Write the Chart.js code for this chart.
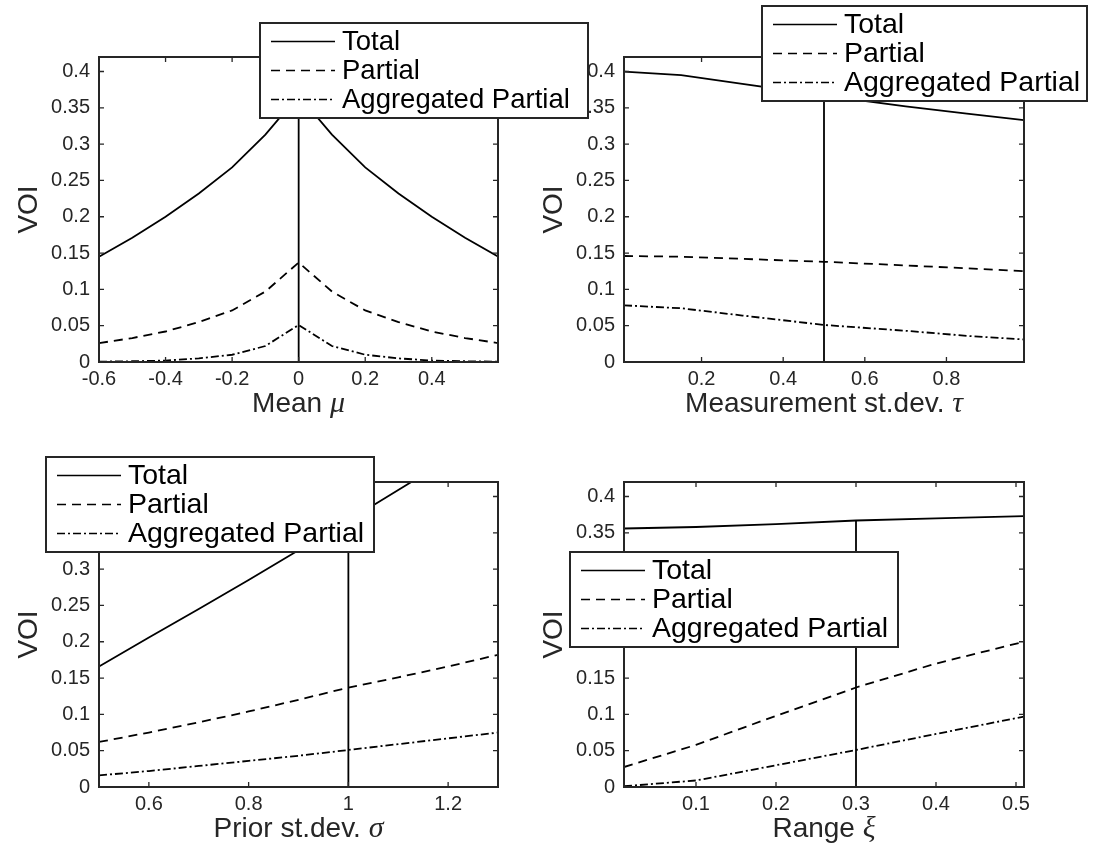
<!DOCTYPE html>
<html lang="en">
<head>
<meta charset="UTF-8" />
<title>VOI sensitivity</title>
<style>
  html, body { margin: 0; padding: 0; background: #fff; }
  #wrap { position: relative; width: 1093px; height: 846px; overflow: hidden; }
  #wrap canvas { position: absolute; left: 0; top: 0; }
</style>
</head>
<body>
<div id="wrap">
  <canvas id="c4" width="1093" height="846"></canvas>
  <canvas id="c3" width="1093" height="846"></canvas>
  <canvas id="c2" width="1093" height="846"></canvas>
  <canvas id="c1" width="1093" height="846"></canvas>
</div>

<script src="https://cdn.jsdelivr.net/npm/chart.js"></script>
<script>
// ---- data ----
const seriesNames = ["Total", "Partial", "Aggregated Partial"];
const voiTicks = [0, 0.05, 0.1, 0.15, 0.2, 0.25, 0.3, 0.35, 0.4];

// panel 1: mean mu
const muValues    = [-0.6, -0.5, -0.4, -0.3, -0.2, -0.1, 0, 0.1, 0.2, 0.3, 0.4, 0.5, 0.6];
const muTotal     = [0.145, 0.171, 0.200, 0.232, 0.268, 0.313, 0.367, 0.313, 0.268, 0.232, 0.200, 0.171, 0.145];
const muPartial   = [0.026, 0.033, 0.042, 0.055, 0.071, 0.097, 0.137, 0.097, 0.071, 0.055, 0.042, 0.033, 0.026];
const muAgg       = [0.0005, 0.001, 0.002, 0.005, 0.010, 0.022, 0.051, 0.022, 0.010, 0.005, 0.002, 0.001, 0.0005];
const muTicks     = [-0.6, -0.4, -0.2, 0, 0.2, 0.4];

// panel 2: measurement st.dev. tau
const tauValues   = [0.01, 0.15, 0.3, 0.5, 0.7, 0.85, 0.99];
const tauTotal    = [0.400, 0.395, 0.383, 0.367, 0.352, 0.342, 0.333];
const tauPartial  = [0.146, 0.145, 0.142, 0.138, 0.133, 0.129, 0.125];
const tauAgg      = [0.078, 0.074, 0.064, 0.051, 0.043, 0.036, 0.031];
const tauTicks    = [0.2, 0.4, 0.6, 0.8];

// panel 3: prior st.dev. sigma
const sigmaValues  = [0.5, 0.6, 0.7, 0.8, 0.9, 1.0, 1.1, 1.2, 1.3];
const sigmaTotal   = [0.166, 0.206, 0.245, 0.285, 0.326, 0.367, 0.409, 0.451, 0.493];
const sigmaPartial = [0.062, 0.075, 0.089, 0.104, 0.120, 0.137, 0.151, 0.166, 0.182];
const sigmaAgg     = [0.016, 0.022, 0.029, 0.036, 0.043, 0.051, 0.059, 0.067, 0.075];
const sigmaTicks   = [0.6, 0.8, 1, 1.2];

// panel 4: range xi
const xiValues    = [0.01, 0.1, 0.2, 0.3, 0.4, 0.51];
const xiTotal     = [0.356, 0.358, 0.362, 0.367, 0.370, 0.373];
const xiPartial   = [0.0275, 0.058, 0.098, 0.137, 0.170, 0.200];
const xiAgg       = [0.001, 0.009, 0.030, 0.051, 0.073, 0.097];
const xiTicks     = [0.1, 0.2, 0.3, 0.4, 0.5];

// baseline marker (vertical line): x position and height
const baselines   = [0, 0.5, 1, 0.3];
const baselineTop = 0.367;

// ---- styling ----
const FONT = "'Liberation Sans', Arial, Helvetica, sans-serif";
const MATH_FONT = "'Liberation Serif', 'Times New Roman', serif";
const AXIS_COLOR = "#262626";
const dashes = [[], [9, 6], [8, 3, 2, 3]];

function fmt(v) {
  if (Math.abs(v) < 1e-9) return "0";
  return String(+v.toFixed(2));
}

// matlab style box with inward ticks, x label with italic symbol, floating legend
const matlabFrame = {
  id: "matlabFrame",
  afterDatasetsDraw(chart, args, opts) {
    const { ctx, chartArea: a } = chart;
    const x = chart.scales.x, y = chart.scales.y;
    ctx.save();
    ctx.strokeStyle = AXIS_COLOR;
    ctx.lineWidth = 1.3;
    ctx.beginPath();
    x.ticks.forEach(t => {
      const px = x.getPixelForValue(t.value);
      ctx.moveTo(px, a.bottom); ctx.lineTo(px, a.bottom - 5);
      ctx.moveTo(px, a.top); ctx.lineTo(px, a.top + 5);
    });
    y.ticks.forEach(t => {
      const py = y.getPixelForValue(t.value);
      ctx.moveTo(a.left, py); ctx.lineTo(a.left + 5, py);
      ctx.moveTo(a.right, py); ctx.lineTo(a.right - 5, py);
    });
    ctx.stroke();
    ctx.lineWidth = 2;
    ctx.strokeRect(a.left, a.top, a.right - a.left, a.bottom - a.top);

    // x axis label: plain words + italic greek symbol
    const word = opts.xTitle[0], sym = opts.xTitle[1];
    const fWord = "28px " + FONT, fSym = "italic 30px " + MATH_FONT;
    ctx.font = fWord;
    const w1 = ctx.measureText(word).width;
    ctx.font = fSym;
    const w2 = ctx.measureText(sym).width;
    const x0 = (a.left + a.right) / 2 - (w1 + w2) / 2;
    const ty = a.bottom + 42.5;
    ctx.fillStyle = AXIS_COLOR;
    ctx.textBaseline = "middle";
    ctx.textAlign = "left";
    ctx.font = fWord;
    ctx.fillText(word, x0, ty);
    ctx.font = fSym;
    ctx.fillText(sym, x0 + w1, ty);
    ctx.restore();
  },
  afterDraw(chart, args, opts) {
    const L = opts.box;
    if (!L) return;
    const ctx = chart.ctx;
    ctx.save();
    ctx.fillStyle = "#fff";
    ctx.fillRect(L.x, L.y, L.w, L.h);
    ctx.strokeStyle = AXIS_COLOR;
    ctx.lineWidth = 2;
    ctx.strokeRect(L.x, L.y, L.w, L.h);
    ctx.font = L.font + "px " + FONT;
    ctx.textBaseline = "middle";
    ctx.fillStyle = "#000";
    seriesNames.forEach((name, i) => {
      const ry = L.y + 18.5 + 29 * i;
      ctx.beginPath();
      ctx.setLineDash(dashes[i]);
      ctx.lineWidth = 1.7;
      ctx.strokeStyle = "#000";
      ctx.moveTo(L.x + 11, ry);
      ctx.lineTo(L.x + 75, ry);
      ctx.stroke();
      ctx.setLineDash([]);
      ctx.fillText(name, L.x + 82, ry + 1);
    });
    ctx.restore();
  }
};

function makePanel(id, p) {
  const series = [p.total, p.partial, p.agg];
  const datasets = series.map((vals, i) => ({
    label: seriesNames[i],
    data: p.xs.map((v, k) => ({ x: v, y: vals[k] })),
    borderColor: "#000",
    borderWidth: 1.8,
    borderDash: dashes[i],
    pointRadius: 0,
    tension: 0,
    fill: false
  }));
  datasets.push({
    label: "baseline",
    data: [{ x: p.base, y: 0 }, { x: p.base, y: baselineTop }],
    borderColor: "#000",
    borderWidth: 1.8,
    pointRadius: 0
  });

  const W = 87, H = 59;
  new Chart(document.getElementById(id), {
    type: "line",
    data: { datasets },
    options: {
      responsive: false,
      animation: false,
      layout: {
        padding: {
          left: p.box.left - W,
          top: p.box.top,
          right: 1093 - p.box.right,
          bottom: 846 - p.box.bottom - H
        }
      },
      plugins: {
        legend: { display: false },
        tooltip: { enabled: false },
        matlabFrame: { box: p.legend, xTitle: p.xTitle }
      },
      scales: {
        x: {
          type: "linear",
          min: p.xmin, max: p.xmax,
          afterBuildTicks: s => { s.ticks = p.ticks.map(v => ({ value: v })); },
          afterFit: s => { s.height = H; },
          grid: { display: false, drawTicks: false },
          border: { display: false },
          ticks: {
            autoSkip: false, maxRotation: 0, padding: 5,
            color: AXIS_COLOR, font: { family: FONT, size: 20 },
            callback: v => fmt(v)
          },
          title: { display: false }
        },
        y: {
          type: "linear",
          min: 0, max: 0.42,
          afterBuildTicks: s => { s.ticks = voiTicks.map(v => ({ value: v })); },
          afterFit: s => { s.width = W; },
          grid: { display: false, drawTicks: false },
          border: { display: false },
          ticks: {
            autoSkip: false, padding: 9,
            color: AXIS_COLOR, font: { family: FONT, size: 20 },
            callback: v => fmt(v)
          },
          title: {
            display: true, text: "VOI", color: AXIS_COLOR,
            font: { family: FONT, size: 28 }, padding: { top: 0, bottom: 0 }
          }
        }
      }
    },
    plugins: [matlabFrame]
  });
}

makePanel("c4", {
  xs: xiValues, total: xiTotal, partial: xiPartial, agg: xiAgg,
  xmin: 0.01, xmax: 0.51, ticks: xiTicks, base: baselines[3],
  xTitle: ["Range ", "ξ"],
  box: { left: 624, right: 1024, top: 482, bottom: 787 },
  legend: { x: 570, y: 552, w: 328, h: 95, font: 28.5 }
});
makePanel("c3", {
  xs: sigmaValues, total: sigmaTotal, partial: sigmaPartial, agg: sigmaAgg,
  xmin: 0.5, xmax: 1.3, ticks: sigmaTicks, base: baselines[2],
  xTitle: ["Prior st.dev. ", "σ"],
  box: { left: 99, right: 498, top: 482, bottom: 787 },
  legend: { x: 46, y: 457, w: 328, h: 95, font: 28.5 }
});
makePanel("c2", {
  xs: tauValues, total: tauTotal, partial: tauPartial, agg: tauAgg,
  xmin: 0.01, xmax: 0.99, ticks: tauTicks, base: baselines[1],
  xTitle: ["Measurement st.dev. ", "τ"],
  box: { left: 624, right: 1024, top: 57, bottom: 362 },
  legend: { x: 762, y: 6, w: 325, h: 95, font: 28.5 }
});
makePanel("c1", {
  xs: muValues, total: muTotal, partial: muPartial, agg: muAgg,
  xmin: -0.6, xmax: 0.599, ticks: muTicks, base: baselines[0],
  xTitle: ["Mean ", "μ"],
  box: { left: 99, right: 498, top: 57, bottom: 362 },
  legend: { x: 260, y: 23, w: 328, h: 95, font: 27.5 }
});
</script>
</body>
</html>
